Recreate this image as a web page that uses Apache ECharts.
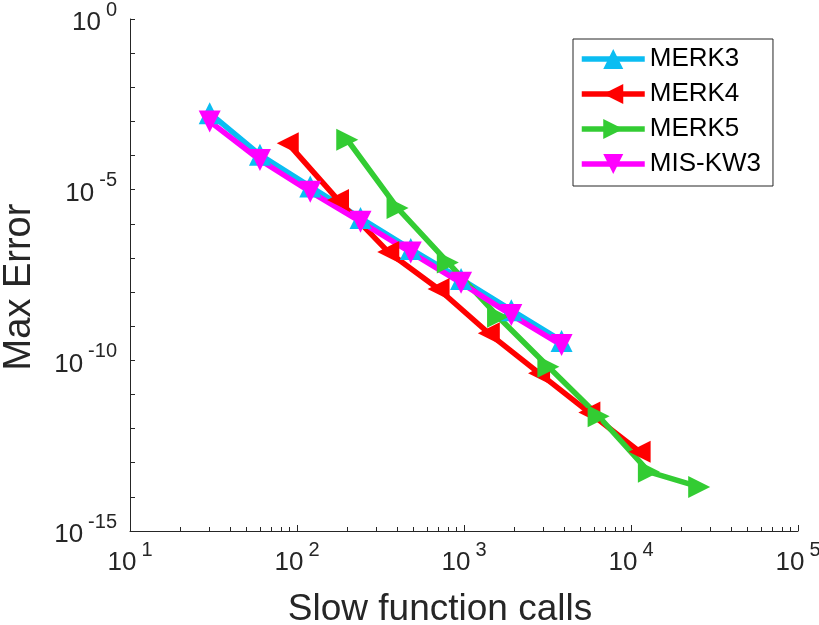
<!DOCTYPE html>
<html>
<head>
<meta charset="utf-8">
<script src="https://cdn.jsdelivr.net/npm/echarts@6/dist/echarts.min.js"></script>
<style>
  html, body { margin: 0; padding: 0; background: #fff; }
  #chart { width: 819px; height: 625px; }
</style>
</head>
<body>
<div id="chart"></div>
<script>
// slow function calls per method
var callsMerk3 = [30, 60, 120, 240, 480, 960, 1920, 3840];
var callsMerk4 = [88, 176, 352, 704, 1408, 2816, 5632, 11264];
var callsMerk5 = [200, 400, 800, 1600, 3200, 6400, 12800, 25600];
var callsMisKw3 = [30, 60, 120, 240, 480, 960, 1920, 3840];

// max error
var errMerk3 = [1.74e-3, 1.05e-4, 1.23e-5, 1.48e-6, 1.82e-7, 2.4e-8, 2.95e-9, 3.7e-10];
var errMerk4 = [2.3e-4, 5.0e-6, 1.5e-7, 1.23e-8, 6.2e-10, 4.2e-11, 2.95e-12, 2.1e-13];
var errMerk5 = [2.9e-4, 2.9e-6, 7.4e-8, 1.9e-9, 6.5e-11, 2.3e-12, 5.4e-14, 1.95e-14];
var errMisKw3 = [1.0e-3, 7.4e-5, 8.7e-6, 1.15e-6, 1.45e-7, 1.86e-8, 2.14e-9, 2.8e-10];

var xMajorTicks = [1e1, 1e2, 1e3, 1e4, 1e5];
var yLabelTicks = [1e-15, 1e-10, 1e-5, 1];
var yDecadeTicks = [1e-15, 1e-14, 1e-13, 1e-12, 1e-11, 1e-10, 1e-9, 1e-8,
  1e-7, 1e-6, 1e-5, 1e-4, 1e-3, 1e-2, 1e-1, 1];

var xMinorTicks = [];
xMajorTicks.slice(0, -1).forEach(function (d) {
  for (var k = 2; k <= 9; k++) xMinorTicks.push(d * k);
});

var axisColor = '#262626';
var font = 'Liberation Sans, Arial, Helvetica, sans-serif';

function pairs(xs, ys) {
  return xs.map(function (x, i) { return [x, ys[i]]; });
}

// 10^n with a raised exponent
function powLabel(v) {
  var e = Math.round(Math.log10(v));
  return '{b|10}{s|' + e + '}';
}

// bottom padding on the exponent lifts it above the base
var powRich = {
  b: { fontSize: 26, lineHeight: 26, color: axisColor, fontFamily: font },
  s: { fontSize: 20, lineHeight: 20, padding: [0, 0, 26, 5], color: axisColor, fontFamily: font }
};

function lineSeries(name, xs, ys, color, rotate) {
  return {
    name: name,
    type: 'line',
    data: pairs(xs, ys),
    symbol: 'triangle',
    symbolRotate: rotate,
    symbolSize: 22,
    showSymbol: true,
    lineStyle: { color: color, width: 5.5 },
    itemStyle: { color: color },
    emphasis: { disabled: true },
    animation: false
  };
}

var chart = echarts.init(document.getElementById('chart'), null, { renderer: 'canvas' });

chart.setOption({
  backgroundColor: '#fff',
  animation: false,
  grid: { left: 130, right: 21, top: 19, bottom: 94, outerBoundsMode: 'none', containLabel: false },
  legend: {
    orient: 'vertical',
    left: 573,
    top: 39,
    padding: [7, 12, 9, 6],
    itemWidth: 63,
    itemHeight: 25,
    itemGap: 9,
    borderColor: axisColor,
    borderWidth: 1,
    backgroundColor: '#fff',
    lineStyle: { width: 5.5 },
    textStyle: { fontSize: 26, color: '#000', fontFamily: font },
    data: ['MERK3', 'MERK4', 'MERK5', 'MIS-KW3']
  },
  xAxis: [{
    type: 'log',
    logBase: 10,
    min: 10,
    max: 1e5,
    position: 'bottom',
    name: 'Slow function calls',
    nameLocation: 'middle',
    nameGap: 60,
    nameTextStyle: { fontSize: 37, color: axisColor, fontFamily: font, padding: [0, 48, 0, 0] },
    axisLine: { show: true, lineStyle: { color: axisColor, width: 1 } },
    axisTick: { show: true, inside: true, length: 6, customValues: xMajorTicks, lineStyle: { color: axisColor } },
    axisLabel: { customValues: xMajorTicks, margin: 19, formatter: powLabel, rich: powRich },
    splitLine: { show: false },
    minorTick: { show: false }
  }, {
    type: 'log',
    logBase: 10,
    min: 10,
    max: 1e5,
    position: 'bottom',
    axisLine: { show: false },
    axisTick: { show: true, inside: true, length: 4, customValues: xMinorTicks, lineStyle: { color: axisColor } },
    axisLabel: { show: false },
    splitLine: { show: false }
  }],
  yAxis: {
    type: 'log',
    logBase: 10,
    min: 1e-15,
    max: 1,
    name: 'Max Error',
    nameLocation: 'middle',
    nameGap: 91,
    nameTextStyle: { fontSize: 38, color: axisColor, fontFamily: font, padding: [0, 24, 0, 0] },
    axisLine: { show: true, lineStyle: { color: axisColor, width: 1 } },
    axisTick: { show: true, inside: true, length: 5, customValues: yDecadeTicks, lineStyle: { color: axisColor } },
    axisLabel: { customValues: yLabelTicks, margin: 13, padding: [8, 0, 0, 0], formatter: powLabel, rich: powRich },
    splitLine: { show: false },
    minorTick: { show: false }
  },
  series: [
    lineSeries('MERK3', callsMerk3, errMerk3, '#0BBDF2', 0),
    lineSeries('MERK4', callsMerk4, errMerk4, '#FF0000', 90),
    lineSeries('MERK5', callsMerk5, errMerk5, '#33CC33', -90),
    lineSeries('MIS-KW3', callsMisKw3, errMisKw3, '#FF00FF', 180)
  ]
});
</script>
</body>
</html>
